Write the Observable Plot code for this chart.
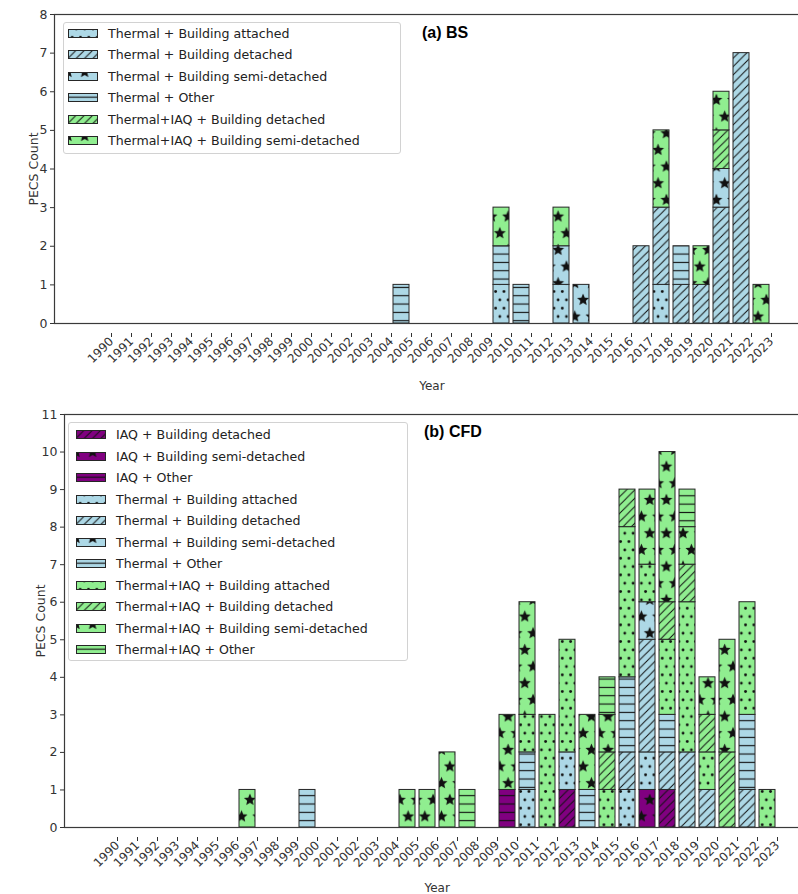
<!DOCTYPE html>
<html>
<head>
<meta charset="utf-8">
<script src="https://cdn.jsdelivr.net/npm/d3@7"></script>
<script src="https://cdn.jsdelivr.net/npm/@observablehq/plot@0.6"></script>
<style>
  html, body { margin: 0; padding: 0; background: white; }
  #page { position: relative; width: 798px; height: 894px; overflow: hidden; background: white; }
  .panel { position: absolute; left: 0; width: 798px; overflow: hidden; }
  .legend {
    position: absolute; background: rgba(255,255,255,0.85);
    border: 1px solid #d2d2d2; border-radius: 3px;
    font-family: "DejaVu Sans", sans-serif; font-size: 12.6px; color: #222;
    box-sizing: border-box;
  }
  .legend .row { position: absolute; left: 0; height: 21px; display: flex; align-items: center; white-space: nowrap; }
  .legend svg { display: block; margin-right: 10px; }
  .tag { position: absolute; font-family: "Liberation Sans", Arial, sans-serif; font-weight: bold; font-size: 16px; color: #000; white-space: nowrap; }
</style>
</head>
<body>
<div id="page"></div>
<script>
// ---- tick labels (categories on the x axis) ----
const yearLabels = ["1990","1991","1992","1993","1994","1995","1996","1997","1998","1999",
  "2000","2001","2002","2003","2004","2005","2006","2007","2008","2009",
  "2010","2011","2012","2013","2014","2015","2016","2017","2018","2019",
  "2020","2021","2022","2023"];

// ---- (a) BS: publication counts per category ----
const bsYears = [2005, 2010, 2011, 2013, 2014, 2017, 2018, 2019, 2020, 2021, 2022, 2023];
const bsSeries = [
  "Thermal + Building attached",
  "Thermal + Building detached",
  "Thermal + Building semi-detached",
  "Thermal + Other",
  "Thermal+IAQ + Building detached",
  "Thermal+IAQ + Building semi-detached"
];
const bsThermalAttached     = [0, 1, 0, 1, 0, 0, 1, 0, 0, 0, 0, 0];
const bsThermalDetached     = [0, 0, 0, 0, 0, 2, 2, 1, 1, 3, 7, 0];
const bsThermalSemi         = [0, 0, 0, 1, 1, 0, 0, 0, 0, 1, 0, 0];
const bsThermalOther        = [1, 1, 1, 0, 0, 0, 0, 1, 0, 0, 0, 0];
const bsThermalIaqDetached  = [0, 0, 0, 0, 0, 0, 0, 0, 0, 1, 0, 0];
const bsThermalIaqSemi      = [0, 1, 0, 1, 0, 0, 2, 0, 1, 1, 0, 1];

// ---- (b) CFD: publication counts per category ----
const cfdYears = [1997, 2000, 2005, 2006, 2007, 2008, 2010, 2011, 2012, 2013,
                  2014, 2015, 2016, 2017, 2018, 2019, 2020, 2021, 2022, 2023];
const cfdSeries = [
  "IAQ + Building detached",
  "IAQ + Building semi-detached",
  "IAQ + Other",
  "Thermal + Building attached",
  "Thermal + Building detached",
  "Thermal + Building semi-detached",
  "Thermal + Other",
  "Thermal+IAQ + Building attached",
  "Thermal+IAQ + Building detached",
  "Thermal+IAQ + Building semi-detached",
  "Thermal+IAQ + Other"
];
const cfdIaqDetached        = [0,0,0,0,0,0, 0,0,0,1,0,0,0,0,1,0,0,0,0,0];
const cfdIaqSemi            = [0,0,0,0,0,0, 0,0,0,0,0,0,0,1,0,0,0,0,0,0];
const cfdIaqOther           = [0,0,0,0,0,0, 1,0,0,0,0,0,0,0,0,0,0,0,0,0];
const cfdThermalAttached    = [0,0,0,0,0,0, 0,1,0,1,0,0,1,1,0,0,0,0,0,0];
const cfdThermalDetached    = [0,0,0,0,0,0, 0,0,0,0,0,0,1,3,1,2,1,0,1,0];
const cfdThermalSemi        = [0,0,0,0,0,0, 0,0,0,0,0,0,0,1,0,0,0,0,0,0];
const cfdThermalOther       = [0,1,0,0,0,0, 0,1,0,0,1,0,2,0,1,0,0,0,2,0];
const cfdThermalIaqAttached = [0,0,0,0,0,0, 0,1,3,3,0,1,4,1,2,4,1,0,3,1];
const cfdThermalIaqDetached = [0,0,0,0,0,0, 0,0,0,0,0,1,1,0,1,1,1,2,0,0];
const cfdThermalIaqSemi     = [1,0,1,1,2,0, 2,3,0,0,2,1,0,2,4,1,1,3,0,0];
const cfdThermalIaqOther    = [0,0,0,0,0,1, 0,0,0,0,0,1,0,0,0,1,0,0,0,0];

// ---- fill colour and hatch for each category ----
const purple = "#800080", lightblue = "#add8e6", lightgreen = "#90ee90";
const styleOf = {
  "IAQ + Building detached":              {color: purple,     hatch: "diag"},
  "IAQ + Building semi-detached":         {color: purple,     hatch: "star"},
  "IAQ + Other":                          {color: purple,     hatch: "hline"},
  "Thermal + Building attached":          {color: lightblue,  hatch: "dots"},
  "Thermal + Building detached":          {color: lightblue,  hatch: "diag"},
  "Thermal + Building semi-detached":     {color: lightblue,  hatch: "star"},
  "Thermal + Other":                      {color: lightblue,  hatch: "hline"},
  "Thermal+IAQ + Building attached":      {color: lightgreen, hatch: "dots"},
  "Thermal+IAQ + Building detached":      {color: lightgreen, hatch: "diag"},
  "Thermal+IAQ + Building semi-detached": {color: lightgreen, hatch: "star"},
  "Thermal+IAQ + Other":                  {color: lightgreen, hatch: "hline"}
};

// ---- SVG hatch patterns (shared by bars and legend swatches) ----
const ink = "#111";
function starPath(cx, cy, r) {
  const pts = [];
  for (let k = 0; k < 10; k++) {
    const rr = k % 2 === 0 ? r : r * 0.45;
    const a = -Math.PI / 2 + k * Math.PI / 5;
    pts.push(`${(cx + rr * Math.cos(a)).toFixed(2)},${(cy + rr * Math.sin(a)).toFixed(2)}`);
  }
  return `M${pts.join("L")}Z`;
}
function hatchMarkup(kind, color) {
  const s = 8.33;
  if (kind === "dots") {
    const w = s, h = 2 * s, r = 1.4;
    const c = [[0,0],[w,0],[0,h],[w,h],[w/2,s]].map(([x,y]) => `<circle cx="${x}" cy="${y}" r="${r}" fill="${ink}"/>`).join("");
    return {w, h, body: `<rect width="${w}" height="${h}" fill="${color}"/>${c}`};
  }
  if (kind === "diag") {
    const w = s, h = s;
    const d = `M${-w},${2*h}L${2*w},${-h}M${-w},${h}L${w},${-h}M0,${2*h}L${2*w},0`;
    return {w, h, body: `<rect width="${w}" height="${h}" fill="${color}"/><path d="${d}" stroke="${ink}" stroke-width="1"/>`};
  }
  if (kind === "hline") {
    const w = s, h = s;
    return {w, h, body: `<rect width="${w}" height="${h}" fill="${color}"/><path d="M0,${h/2}H${w}" stroke="${ink}" stroke-width="1.15"/>`};
  }
  // stars
  const w = 2 * s, h = 4 * s, r = 6.3;
  const st = [[0,0],[w,0],[0,h],[w,h],[w/2,h/2]].map(([x,y]) => `<path d="${starPath(x,y,r)}" fill="${ink}"/>`).join("");
  return {w, h, body: `<rect width="${w}" height="${h}" fill="${color}"/>${st}`};
}
const patternId = name => "pat-" + name.replace(/[^A-Za-z]+/g, "-").toLowerCase();
{
  const defs = Object.entries(styleOf).map(([name, {color, hatch}]) => {
    const {w, h, body} = hatchMarkup(hatch, color);
    return `<pattern id="${patternId(name)}" patternUnits="userSpaceOnUse" width="${w}" height="${h}">${body}</pattern>`;
  }).join("");
  const holder = document.createElement("div");
  holder.innerHTML = `<svg width="0" height="0" style="position:absolute"><defs>${defs}</defs></svg>`;
  document.body.prepend(holder.firstChild);
}

function rowsFor(years, names, columns) {
  const rows = [];
  names.forEach((name, s) => {
    columns[s].forEach((v, i) => {
      if (v > 0) rows.push({year: String(years[i]), count: v, series: name, fill: `url(#${patternId(name)})`});
    });
  });
  return rows;
}

function drawPanel({top, svgHeight, names, rows, yMax, marginLeft, marginRight, marginTop, marginBottom,
                    legendBox, rowTop, swatchX, textGap, tag, tagPos, yLabelOffset, xLabelOffset}) {
  const panel = document.createElement("div");
  panel.className = "panel";
  panel.style.top = top + "px";
  panel.style.height = svgHeight + "px";
  const yTicks = d3.range(0, yMax + 1);
  const chart = Plot.plot({
    width: 812, height: svgHeight,
    marginTop, marginBottom, marginLeft, marginRight,
    style: {fontFamily: "DejaVu Sans", fontSize: "12px", color: "#333", background: "white", maxWidth: "none"},
    x: {type: "band", domain: yearLabels, paddingInner: 0.2, paddingOuter: 1.69, align: 0.5},
    y: {domain: [0, yMax]},
    color: {type: "identity"},
    marks: [
      Plot.barY(rows, {x: "year", y: "count", z: "series", fill: "fill", stroke: "#262626", strokeWidth: 1, inset: 0}),
      Plot.frame({stroke: "#3a3a3a", strokeWidth: 1.2}),
      Plot.axisY({ticks: yTicks, tickFormat: d => String(d), tickSize: 4, tickPadding: 3,
                  label: "PECS Count", labelAnchor: "center", labelArrow: "none", labelOffset: yLabelOffset, fontSize: 12.5}),
      Plot.axisX({tickSize: 4, tickRotate: -45, tickPadding: 2, dx: 10, dy: 10, fontSize: 12,
                  label: "Year", labelAnchor: "center", labelArrow: "none", labelOffset: xLabelOffset})
    ]
  });
  panel.appendChild(chart);

  // legend box inside the plot area
  const lg = document.createElement("div");
  lg.className = "legend";
  Object.assign(lg.style, {left: legendBox[0] + "px", top: legendBox[1] + "px",
                           width: legendBox[2] + "px", height: legendBox[3] + "px"});
  names.forEach((name, i) => {
    const row = document.createElement("div");
    row.className = "row";
    row.style.top = (rowTop + i * 21.5 - 10.5) + "px";
    row.style.left = swatchX + "px";
    row.innerHTML = `<svg width="30" height="9"><rect x="0.5" y="0.5" width="29" height="8" fill="url(#${patternId(name)})" stroke="#262626" stroke-width="1"/></svg><span>${name}</span>`;
    row.querySelector("svg").style.marginRight = textGap + "px";
    lg.appendChild(row);
  });
  panel.appendChild(lg);

  const t = document.createElement("div");
  t.className = "tag";
  t.textContent = tag;
  t.style.left = tagPos[0] + "px";
  t.style.top = tagPos[1] + "px";
  panel.appendChild(t);

  document.getElementById("page").appendChild(panel);
}

drawPanel({
  top: 0, svgHeight: 400,
  names: bsSeries,
  rows: rowsFor(bsYears, bsSeries, [bsThermalAttached, bsThermalDetached, bsThermalSemi, bsThermalOther, bsThermalIaqDetached, bsThermalIaqSemi]),
  yMax: 8, marginLeft: 54, marginRight: 3.2, marginTop: 14, marginBottom: 77,
  legendBox: [63, 22, 338, 132], rowTop: 10.3, swatchX: 4, textGap: 10,
  tag: "(a) BS", tagPos: [422, 24], yLabelOffset: 25, xLabelOffset: 66
});

drawPanel({
  top: 400, svgHeight: 494,
  names: cfdSeries,
  rows: rowsFor(cfdYears, cfdSeries, [cfdIaqDetached, cfdIaqSemi, cfdIaqOther, cfdThermalAttached, cfdThermalDetached,
    cfdThermalSemi, cfdThermalOther, cfdThermalIaqAttached, cfdThermalIaqDetached, cfdThermalIaqSemi, cfdThermalIaqOther]),
  yMax: 11, marginLeft: 64, marginRight: 2.7, marginTop: 14, marginBottom: 67,
  legendBox: [68, 22, 340, 239], rowTop: 11.5, swatchX: 7, textGap: 10,
  tag: "(b) CFD", tagPos: [424, 23], yLabelOffset: 28, xLabelOffset: 64
});
</script>
</body>
</html>
